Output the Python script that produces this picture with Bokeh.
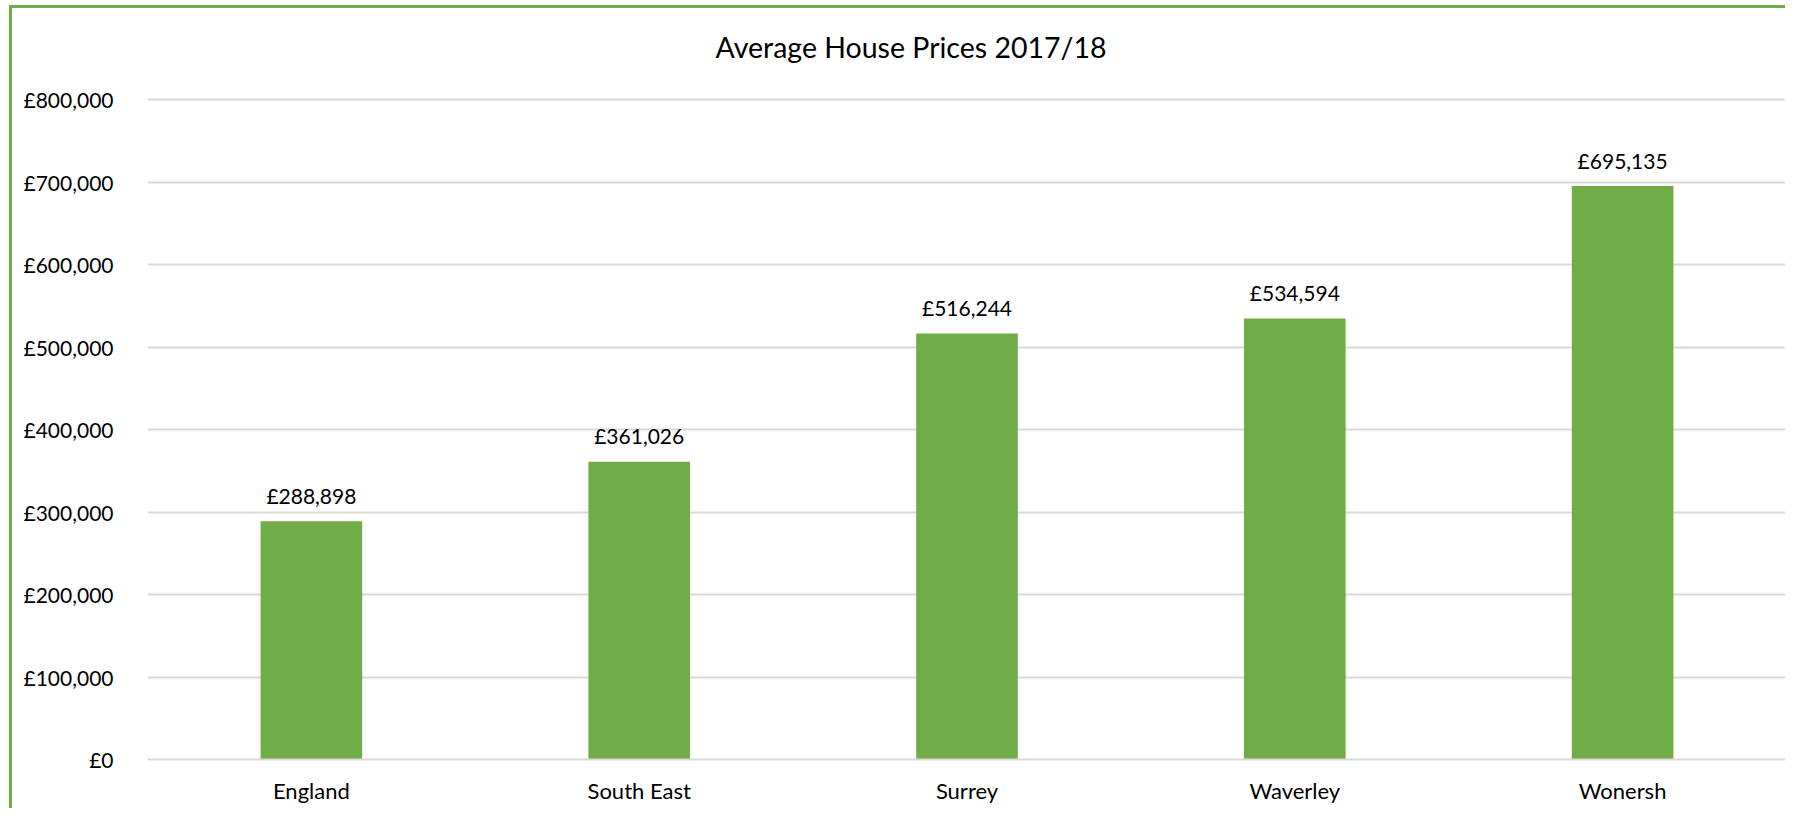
from bokeh.plotting import figure
from bokeh.models import Range1d, FactorRange, FixedTicker, ColumnDataSource, Label
from bokeh.core.properties import value
from bokeh.embed import file_html
from bokeh.resources import INLINE

categories = ["England", "South East", "Surrey", "Waverley", "Wonersh"]
prices = [288898, 361026, 516244, 534594, 695135]
y_ticks = [0, 100000, 200000, 300000, 400000, 500000, 600000, 700000, 800000]
y_tick_labels = ["£0", "£100,000", "£200,000", "£300,000", "£400,000",
                 "£500,000", "£600,000", "£700,000", "£800,000"]
title_text = "Average House Prices 2017/18"

GREEN = "#70AD47"
GRID = "#D9D9D9"
FONT = "Lato"

src = ColumnDataSource(dict(
    cat=categories,
    val=prices,
    lbl=["£{:,}".format(v) for v in prices],
))

# layout (pixels): plot frame spans the full height above the x axis,
# value axis scaled so that the top tick sits 660 px above the baseline
W, H = 1776, 803
BORDER_BOTTOM = 52
FRAME_H = H - BORDER_BOTTOM
SCALE_PX = 660
y_end = y_ticks[-1] * FRAME_H / SCALE_PX

p = figure(
    width=W, height=H,
    x_range=FactorRange(*categories, range_padding=0),
    y_range=Range1d(0, y_end),
    output_backend="svg", toolbar_location=None,
    min_border_left=135, min_border_right=2,
    min_border_top=0, min_border_bottom=BORDER_BOTTOM,
)
p.styles = {
    "margin-left": "9px", "margin-top": "5px",
    "border-left": "3px solid " + GREEN, "border-top": "3px solid " + GREEN,
}
p.outline_line_color = None
p.background_fill_color = "white"
p.border_fill_color = "white"

p.vbar(x="cat", top="val", width=0.31, source=src, fill_color=GREEN, line_color=None)

p.text(x="cat", y="val", text="lbl", source=src, y_offset=-26,
       text_align="center", text_baseline="middle",
       text_font=value(FONT), text_font_size="21px", text_color="#000000")

# chart title, positioned in screen units relative to the plot frame
p.add_layout(Label(x=568, y=713, x_units="screen", y_units="screen",
                   text=title_text, text_align="left", text_baseline="middle",
                   text_font=FONT, text_font_size="28.5px", text_color="#000000"))

# axes
p.xgrid.grid_line_color = None
p.ygrid.grid_line_color = GRID
p.ygrid.grid_line_width = 2
p.yaxis.ticker = FixedTicker(ticks=y_ticks)
p.yaxis.major_label_overrides = {t_: l for t_, l in zip(y_ticks, y_tick_labels)}
p.yaxis.axis_line_color = None
p.yaxis.major_tick_line_color = None
p.yaxis.minor_tick_line_color = None
p.yaxis.major_label_standoff = 28
p.yaxis.major_label_text_font = FONT
p.yaxis.major_label_text_font_size = "21px"
p.yaxis.major_label_text_color = "#000000"

p.xaxis.axis_line_color = GRID
p.xaxis.axis_line_width = 2
p.xaxis.major_tick_line_color = None
p.xaxis.minor_tick_line_color = None
p.xaxis.major_label_standoff = 11
p.xaxis.major_label_text_font = FONT
p.xaxis.major_label_text_font_size = "22px"
p.xaxis.major_label_text_color = "#000000"

open("out.html", "w").write(file_html(p, INLINE))
